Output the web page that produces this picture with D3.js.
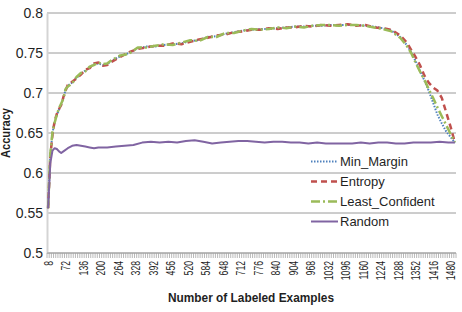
<!DOCTYPE html>
<html>
<head>
<meta charset="utf-8">
<script src="https://cdn.jsdelivr.net/npm/d3@7"></script>
<style>
  body { margin: 0; background: #fff; }
  svg { display: block; font-family: "Liberation Sans", Arial, sans-serif; }
</style>
</head>
<body>
<svg id="chart" width="462" height="312"></svg>
<script>
// x positions (number of labeled examples) where the active learning curves were read
const alExamples = [8, 16, 24, 32, 40, 48, 56, 64, 72, 80, 96, 112, 128, 144, 160, 176, 192, 208, 224, 240,
  272, 304, 336, 368, 400, 432, 464, 496, 528, 560, 592, 624, 656, 688, 720, 752, 784, 816, 848, 880,
  912, 944, 976, 1008, 1040, 1072, 1104, 1136, 1168, 1200, 1232, 1264, 1296, 1320, 1336, 1352, 1368, 1384, 1400, 1416,
  1432, 1448, 1464, 1480, 1496];

const minMargin = [0.556, 0.622, 0.650, 0.664, 0.672, 0.679, 0.686, 0.694, 0.704, 0.709, 0.713, 0.719, 0.724, 0.728, 0.732, 0.736, 0.737, 0.735, 0.736, 0.740,
  0.746, 0.750, 0.756, 0.758, 0.758, 0.760, 0.761, 0.762, 0.765, 0.766, 0.770, 0.771, 0.774, 0.776, 0.778, 0.779, 0.780, 0.780, 0.781, 0.782,
  0.783, 0.783, 0.784, 0.784, 0.785, 0.785, 0.785, 0.785, 0.784, 0.783, 0.781, 0.778, 0.770, 0.760, 0.751, 0.740, 0.728, 0.716, 0.703, 0.688,
  0.673, 0.662, 0.652, 0.645, 0.638];

const entropy = [0.556, 0.620, 0.648, 0.665, 0.674, 0.680, 0.685, 0.695, 0.703, 0.710, 0.714, 0.718, 0.723, 0.729, 0.731, 0.737, 0.738, 0.734, 0.735, 0.739,
  0.745, 0.751, 0.755, 0.757, 0.759, 0.759, 0.762, 0.761, 0.764, 0.767, 0.769, 0.772, 0.773, 0.776, 0.777, 0.779, 0.779, 0.781, 0.780, 0.782,
  0.782, 0.784, 0.783, 0.785, 0.784, 0.785, 0.786, 0.784, 0.785, 0.782, 0.781, 0.779, 0.772, 0.763, 0.754, 0.745, 0.735, 0.722, 0.713, 0.707,
  0.703, 0.694, 0.676, 0.658, 0.638];

const leastConfident = [0.556, 0.624, 0.651, 0.663, 0.673, 0.681, 0.687, 0.693, 0.705, 0.708, 0.712, 0.720, 0.725, 0.727, 0.733, 0.735, 0.738, 0.736, 0.737, 0.741,
  0.747, 0.749, 0.757, 0.757, 0.759, 0.761, 0.760, 0.763, 0.766, 0.765, 0.770, 0.770, 0.775, 0.775, 0.778, 0.780, 0.779, 0.780, 0.782, 0.781,
  0.783, 0.782, 0.784, 0.785, 0.785, 0.784, 0.785, 0.785, 0.784, 0.782, 0.780, 0.777, 0.769, 0.759, 0.750, 0.738, 0.727, 0.717, 0.705, 0.694,
  0.682, 0.671, 0.660, 0.649, 0.638];

const randomExamples = [8, 16, 24, 32, 40, 48, 56, 64, 80, 96, 112, 128, 144, 160, 176, 192, 224, 256, 288, 320,
  352, 384, 416, 448, 480, 512, 544, 576, 608, 640, 672, 704, 736, 768, 800, 832, 864, 896, 928, 960,
  992, 1024, 1056, 1088, 1120, 1152, 1184, 1216, 1248, 1280, 1312, 1344, 1376, 1408, 1440, 1472, 1496];

const randomAcc = [0.556, 0.612, 0.628, 0.631, 0.630, 0.627, 0.625, 0.627, 0.631, 0.634, 0.635, 0.634, 0.633, 0.632, 0.631, 0.632, 0.632, 0.633, 0.634, 0.635,
  0.638, 0.639, 0.638, 0.639, 0.638, 0.640, 0.641, 0.639, 0.637, 0.638, 0.639, 0.640, 0.640, 0.639, 0.638, 0.639, 0.639, 0.638, 0.638, 0.637,
  0.638, 0.637, 0.637, 0.637, 0.637, 0.638, 0.637, 0.638, 0.638, 0.637, 0.637, 0.638, 0.638, 0.638, 0.639, 0.638, 0.638];

// axis definitions
const firstExample = 8, lastExample = 1496, exampleStep = 8, labelStep = 64;
const yTicks = [0.5, 0.55, 0.6, 0.65, 0.7, 0.75, 0.8];

const series = [
  { name: "Min_Margin", xs: alExamples, ys: minMargin, color: "#4f81bd", dash: "1.5,1.5", width: 2 },
  { name: "Entropy", xs: alExamples, ys: entropy, color: "#c0504d", dash: "6,4", width: 2.5 },
  { name: "Least_Confident", xs: alExamples, ys: leastConfident, color: "#9bbb59", dash: "9,3,2,3", width: 2.5 },
  { name: "Random", xs: randomExamples, ys: randomAcc, color: "#8064a2", dash: null, width: 2 }
];

const svg = d3.select("svg#chart");
const plot = { left: 47, right: 456, top: 13, bottom: 253 };

const x = d3.scaleLinear()
  .domain([firstExample - exampleStep / 2, lastExample + exampleStep / 2])
  .range([plot.left, plot.right]);
const y = d3.scaleLinear().domain([0.5, 0.8]).range([plot.bottom, plot.top]);

// gridlines
svg.append("g")
  .selectAll("line")
  .data(yTicks)
  .join("line")
  .attr("x1", plot.left)
  .attr("x2", plot.right)
  .attr("y1", d => y(d))
  .attr("y2", d => y(d))
  .attr("stroke", "#9a9a9a")
  .attr("stroke-width", 1);

// y axis
const yAxis = svg.append("g")
  .attr("transform", `translate(${plot.left},0)`)
  .call(d3.axisLeft(y).tickValues(yTicks).tickSize(0).tickPadding(4).tickFormat(d3.format("")));
yAxis.select(".domain").attr("stroke", "#d4d4d4").attr("stroke-width", 2);
yAxis.selectAll("text")
  .attr("font-size", "14px")
  .attr("fill", "#1f1f1f")
  .attr("font-family", "Liberation Sans, Arial, sans-serif");

// x axis: one tick between each category, label every 64
const boundaries = d3.range(firstExample - exampleStep / 2, lastExample + exampleStep, exampleStep);
svg.append("g")
  .selectAll("line")
  .data(boundaries)
  .join("line")
  .attr("x1", d => x(d))
  .attr("x2", d => x(d))
  .attr("y1", plot.bottom)
  .attr("y2", plot.bottom + 5)
  .attr("stroke", "#a6a6a6")
  .attr("stroke-width", 0.8);
svg.append("line")
  .attr("x1", plot.left).attr("x2", plot.right)
  .attr("y1", plot.bottom).attr("y2", plot.bottom)
  .attr("stroke", "#a6a6a6");

const xLabels = d3.range(firstExample, lastExample + 1, labelStep);
svg.append("g")
  .selectAll("text")
  .data(xLabels)
  .join("text")
  .attr("transform", d => `translate(${x(d) + 4.5},261) rotate(-90) scale(0.64,1)`)
  .attr("text-anchor", "end")
  .attr("font-size", "13.5px")
  .attr("fill", "#1f1f1f")
  .text(d => d);

// axis titles
svg.append("text")
  .attr("x", 251)
  .attr("y", 302)
  .attr("text-anchor", "middle")
  .attr("font-size", "12.5px")
  .attr("font-weight", "bold")
  .attr("fill", "#1f1f1f")
  .attr("textLength", 166)
  .attr("lengthAdjust", "spacingAndGlyphs")
  .text("Number of Labeled Examples");

svg.append("text")
  .attr("transform", "translate(10,133) rotate(-90)")
  .attr("text-anchor", "middle")
  .attr("font-size", "12px")
  .attr("font-weight", "bold")
  .attr("fill", "#1f1f1f")
  .attr("textLength", 50)
  .attr("lengthAdjust", "spacingAndGlyphs")
  .text("Accuracy");

// lines
const line = d3.line()
  .x(d => x(d[0]))
  .y(d => y(d[1]));

svg.append("g")
  .selectAll("path")
  .data(series)
  .join("path")
  .attr("d", s => line(d3.zip(s.xs, s.ys)))
  .attr("fill", "none")
  .attr("stroke", s => s.color)
  .attr("stroke-width", s => s.width)
  .attr("stroke-dasharray", s => s.dash)
  .attr("stroke-linejoin", "round");

// legend
const legend = svg.append("g").attr("transform", "translate(311,161.5)");
const entry = legend.selectAll("g")
  .data(series)
  .join("g")
  .attr("transform", (d, i) => `translate(0,${i * 20})`);
entry.append("line")
  .attr("x1", 0).attr("x2", 27)
  .attr("y1", 0).attr("y2", 0)
  .attr("stroke", d => d.color)
  .attr("stroke-width", d => d.width)
  .attr("stroke-dasharray", d => d.dash);
entry.append("text")
  .attr("x", 29)
  .attr("y", 4.5)
  .attr("font-size", "13px")
  .attr("fill", "#1f1f1f")
  .text(d => d.name);
</script>
</body>
</html>
